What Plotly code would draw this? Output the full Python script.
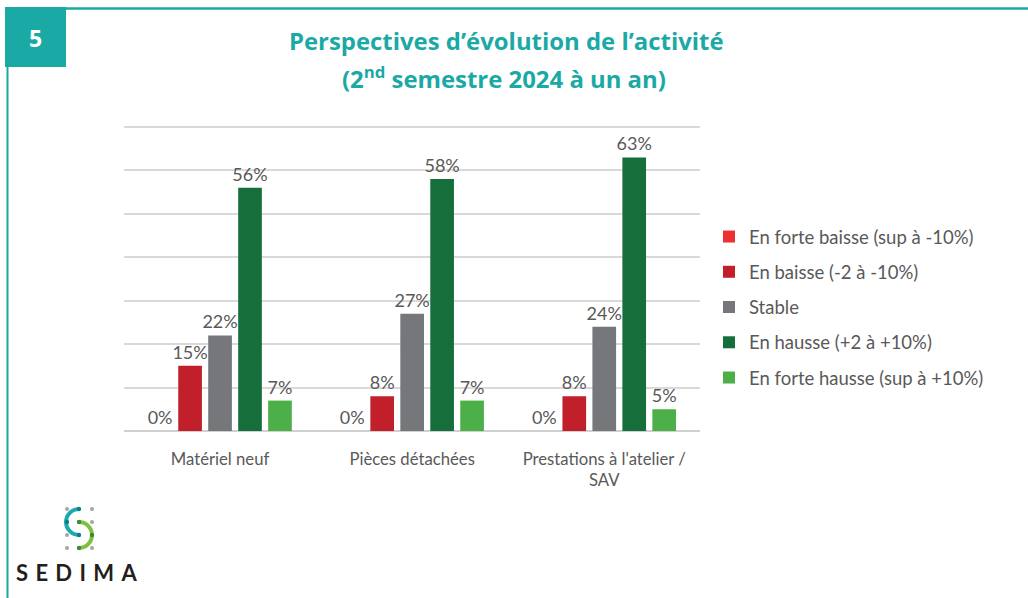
import plotly.graph_objects as go

W, H = 1028, 598

categories = ["Matériel neuf", "Pièces détachées", "Prestations à l'atelier /<br>SAV"]
series_names = [
    "En forte baisse (sup à -10%)",
    "En baisse (-2 à -10%)",
    "Stable",
    "En hausse (+2 à +10%)",
    "En forte hausse (sup à +10%)",
]
forte_baisse = [0, 0, 0]
baisse = [15, 8, 8]
stable = [22, 27, 24]
hausse = [56, 58, 63]
forte_hausse = [7, 7, 5]
series_values = [forte_baisse, baisse, stable, hausse, forte_hausse]
series_colors = ["#EC3131", "#C1202A", "#75777A", "#166E3A", "#4DAF48"]

TEAL = "#1BA9A6"
FONT = "Lato"
LABEL_GREY = "#595959"


def px(x):
    return x / W


def py(y):
    return 1 - y / H


fig = go.Figure()
for name, vals, col in zip(series_names, series_values, series_colors):
    fig.add_trace(go.Bar(
        x=categories, y=vals, name=name, marker_color=col,
        marker_line_width=0,
        text=vals, texttemplate="%{y}%", textposition="outside",
        textfont=dict(family=FONT, size=18, color=LABEL_GREY),
        constraintext="none",
        cliponaxis=False, legendgroup=name,
    ))

shapes = []
# frame lines
shapes.append(dict(type="line", xref="paper", yref="paper", x0=px(66), x1=px(1028), y0=py(8.5), y1=py(8.5),
                   line=dict(color=TEAL, width=2.5)))
shapes.append(dict(type="line", xref="paper", yref="paper", x0=px(7.5), x1=px(7.5), y0=py(67), y1=py(598),
                   line=dict(color=TEAL, width=2)))
# badge
shapes.append(dict(type="rect", xref="paper", yref="paper", x0=px(5), x1=px(66), y0=py(67), y1=py(7),
                   fillcolor=TEAL, line_width=0))


def path_from(points_cmds):
    s = ""
    for cmd, pts in points_cmds:
        s += cmd + " " + " ".join(f"{px(a):.5f},{py(b):.5f}" for a, b in pts) + " "
    return s.strip()


k = 0.5523 * 13
teal_arc = path_from([
    ("M", [(79, 509)]),
    ("C", [(79 - k, 509), (66, 522 - k), (66, 522)]),
    ("C", [(66, 522 + k), (79 - k, 535), (79, 535)]),
])
green_arc = path_from([
    ("M", [(79, 522)]),
    ("C", [(79 + k, 522), (92, 535 - k), (92, 535)]),
    ("C", [(92, 535 + k), (79 + k, 548), (79, 548)]),
])
shapes.append(dict(type="path", xref="paper", yref="paper", path=teal_arc,
                   line=dict(color="#1BAAB0", width=4)))
shapes.append(dict(type="path", xref="paper", yref="paper", path=green_arc,
                   line=dict(color="#7CC242", width=4)))


def dot(cx, cy, r, col):
    return dict(type="circle", xref="paper", yref="paper", x0=px(cx - r), x1=px(cx + r),
                y0=py(cy + r), y1=py(cy - r), fillcolor=col, line_width=0)


for (cx, cy) in [(67, 509), (92, 509), (92, 522), (67, 535), (67, 548), (92, 548)]:
    shapes.append(dot(cx, cy, 2, "#A5A5A5"))
for (cx, cy) in [(79, 509), (79, 535), (67, 522)]:
    shapes.append(dot(cx, cy, 2.2, "#0F7E82"))
for (cx, cy) in [(79, 522), (79, 548), (92, 535)]:
    shapes.append(dot(cx, cy, 2.2, "#3E8A36"))

TITLE_FONT = dict(family="Open Sans", size=23.9, color=TEAL, weight="bold")
annotations = [
    dict(text="5", x=px(35.5), y=py(38), xref="paper", yref="paper", showarrow=False,
         font=dict(family="Open Sans", size=23, color="white", weight="bold"), xanchor="center", yanchor="middle"),
    dict(text="Perspectives d’évolution de l’activité", x=px(506), y=py(41), xref="paper", yref="paper",
         showarrow=False, font=TITLE_FONT, xanchor="center", yanchor="middle"),
    dict(text="(2<sup>nd</sup> semestre 2024 à un an)", x=px(504), y=py(77), xref="paper", yref="paper",
         showarrow=False, font=TITLE_FONT, xanchor="center", yanchor="middle"),
    dict(text="S\u2004E\u2004D\u2004I\u2004M\u2004A", x=px(14), y=py(572), xref="paper", yref="paper",
         showarrow=False, font=dict(family=FONT, size=22, color="#231F20", weight="bold"),
         xanchor="left", yanchor="middle"),
]

Y_TOP = 71  # axis top, so that the 70% gridline sits inside the plot
fig.update_layout(
    width=W, height=H,
    margin=dict(l=0, r=0, t=0, b=0),
    paper_bgcolor="white", plot_bgcolor="white",
    barmode="group", bargap=0.22, bargroupgap=0.21,
    font=dict(family=FONT, color=LABEL_GREY),
    xaxis=dict(domain=[px(124), px(700.3)], showline=False, ticks="",
               tickfont=dict(family=FONT, size=16.7, color=LABEL_GREY), automargin=False,
               ticklabelstandoff=16),
    yaxis=dict(domain=[py(431), py(431 - 304 * Y_TOP / 70)], range=[0, Y_TOP], dtick=10,
               showticklabels=False,
               showgrid=True, gridcolor="#D9D9D9", gridwidth=1.5,
               zeroline=True, zerolinecolor="#D0D0D0", zerolinewidth=1.5, automargin=False),
    legend=dict(x=px(709), y=py(218), xanchor="left", yanchor="top", xref="paper", yref="paper",
                font=dict(family=FONT, size=18.5, color=LABEL_GREY), tracegroupgap=8.2,
                itemwidth=30, bgcolor="rgba(0,0,0,0)"),
    shapes=shapes,
    annotations=annotations,
    showlegend=True,
)

fig.write_html("out.html", config={"displayModeBar": False},
               post_script="document.body.style.margin='0';")
